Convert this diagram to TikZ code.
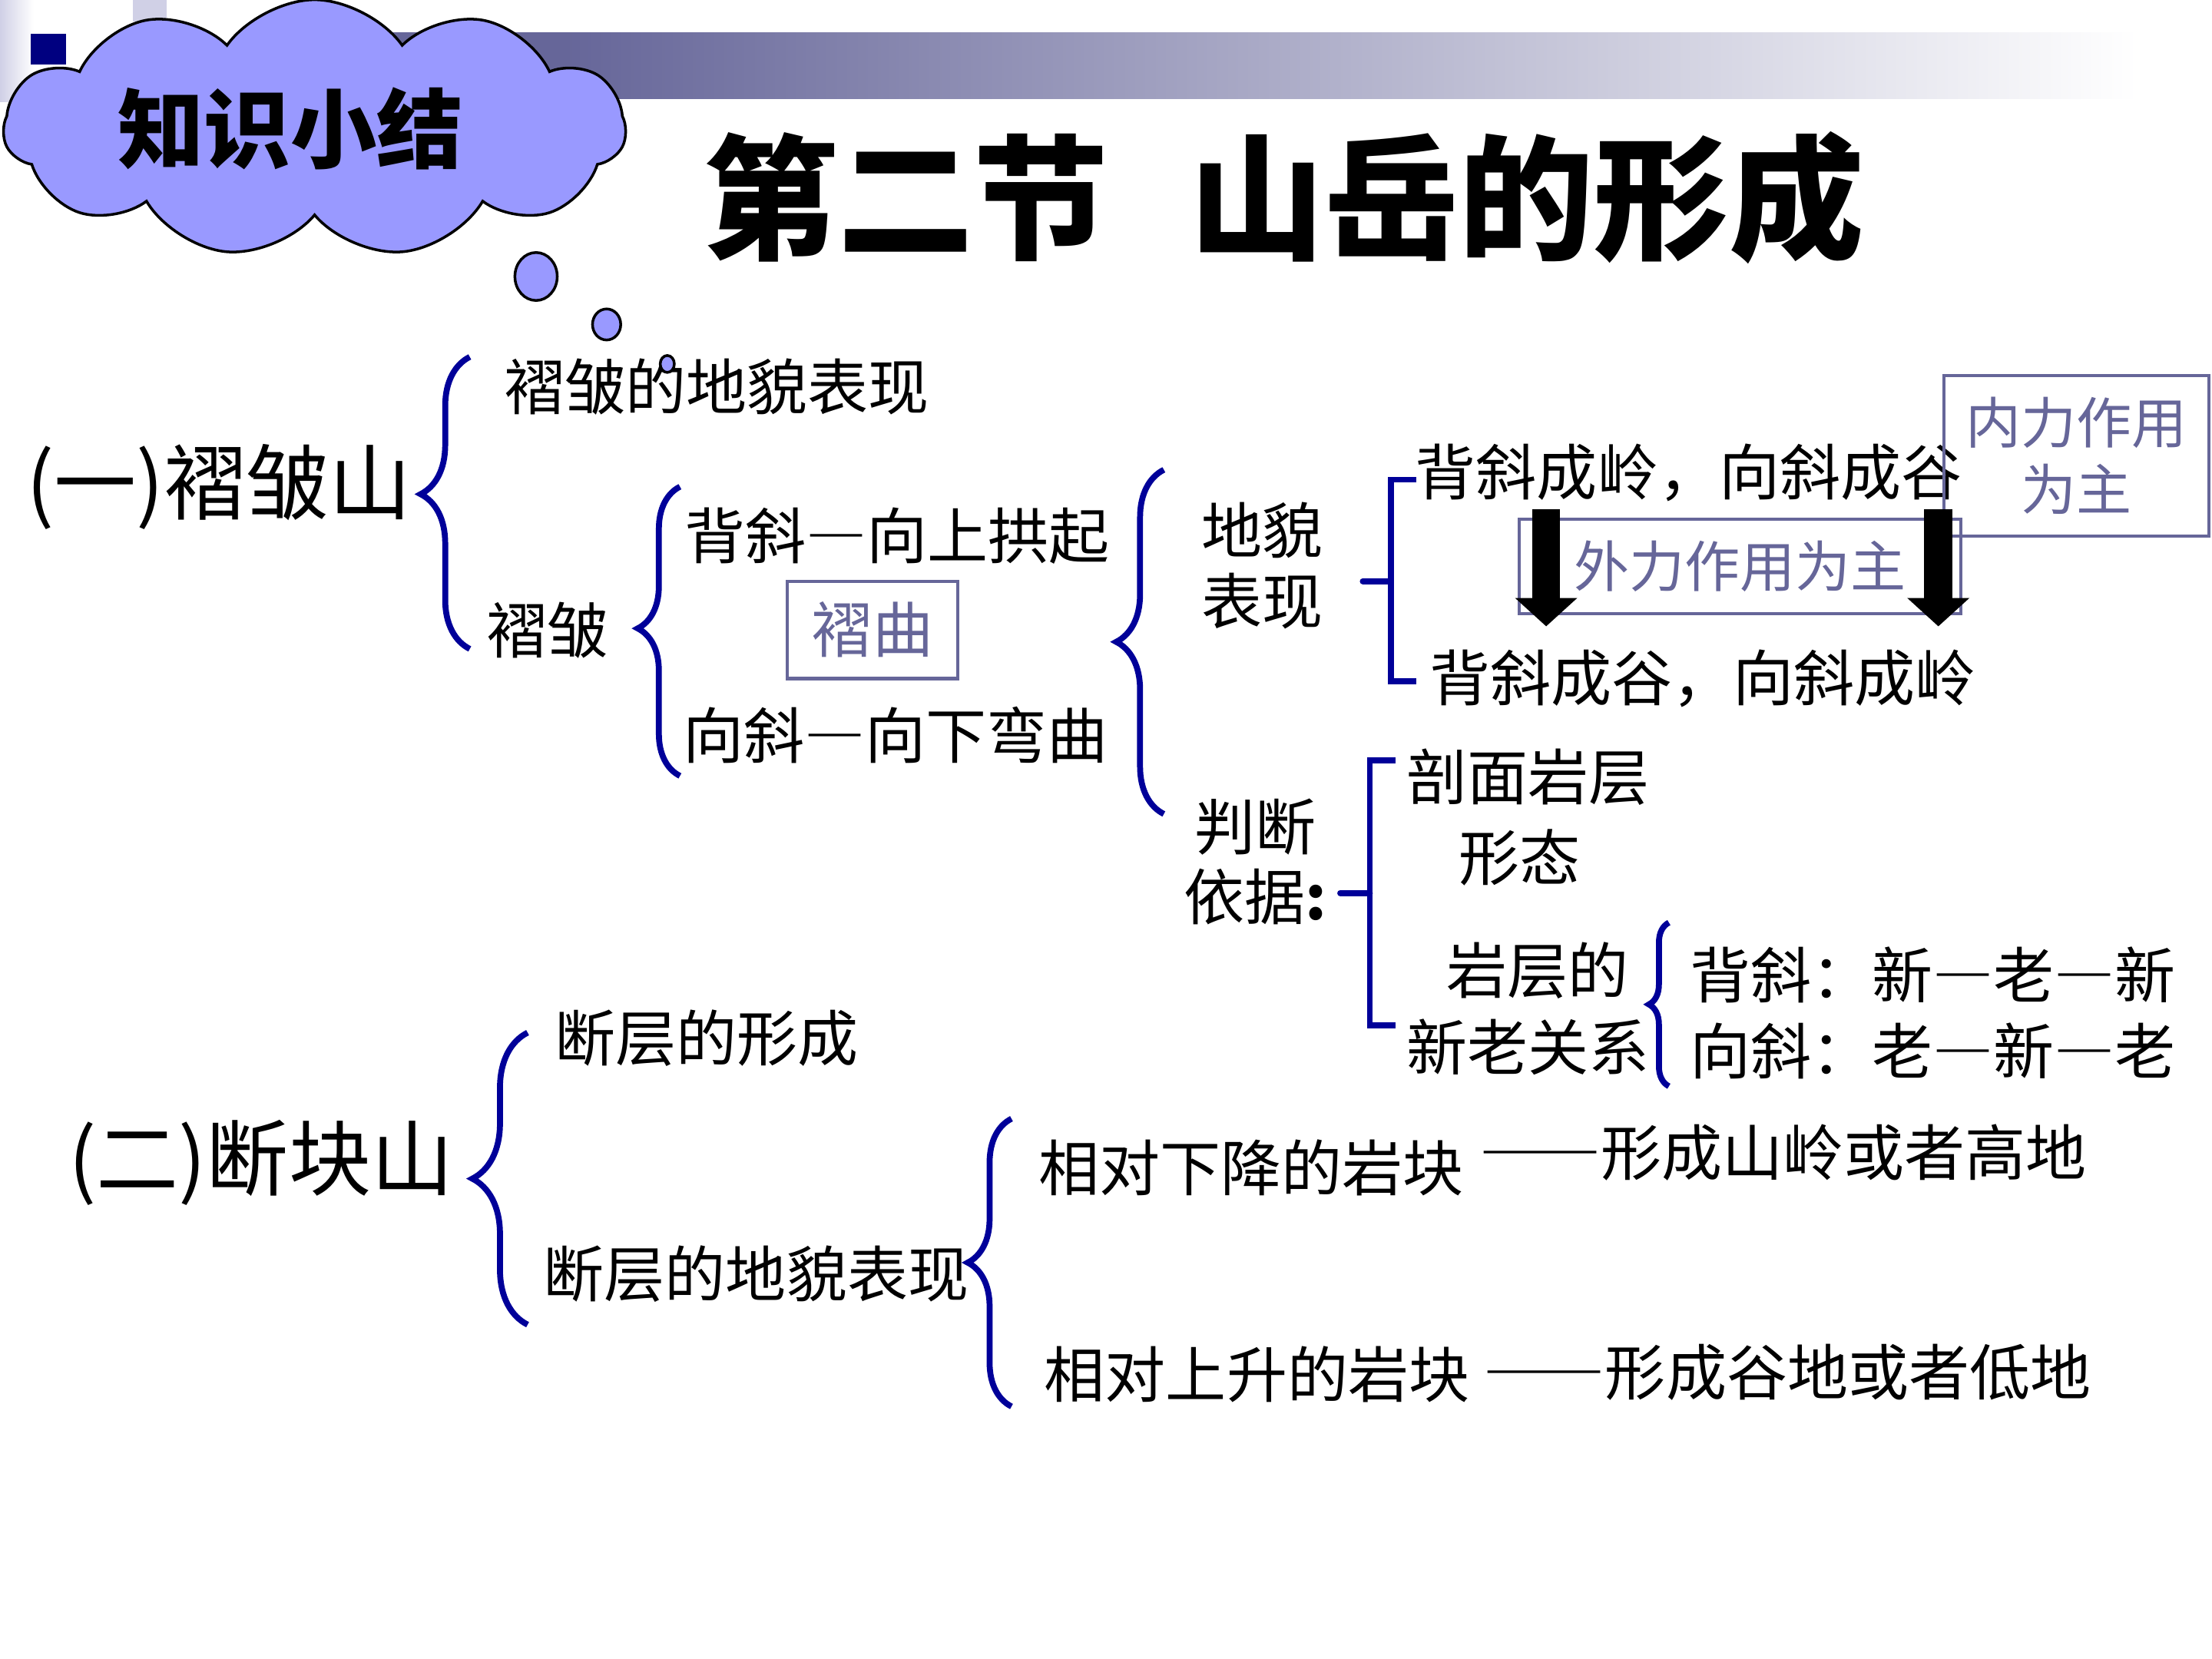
\documentclass[tikz,border=0pt]{standalone}
\usepackage{fontspec}
\setmainfont{Noto Sans CJK SC}
\newfontfamily\fwfont{Noto Sans CJK SC}[RawFeature=+fwid]
\newcommand{\fwdash}{{\fwfont —}}
\usetikzlibrary{shapes.symbols, decorations.pathreplacing, arrows.meta}
\definecolor{navy}{RGB}{0,0,153}
\definecolor{deepnavy}{RGB}{0,0,128}
\definecolor{slate}{RGB}{102,102,153}
\definecolor{puff}{RGB}{153,153,255}
\definecolor{lav}{RGB}{208,208,230}
\tikzset{
	txt/.style = {inner sep = 0, font = \fontsize{22.5}{26}\selectfont},
	big/.style = {inner sep = 0, font = \fontsize{30.5}{34}\selectfont},
	note/.style = {draw = slate, line width = 1.2pt, text = slate, inner sep = 0, align = center, font = \fontsize{20.5}{25}\selectfont},
	brc/.style 2 args = {draw = navy, line width = 2.2pt, decorate, decoration = {brace, amplitude = #1, aspect = #2}},
	brk/.style = {draw = navy, line width = 2.2pt},
	fall/.style = {line width = 0.367cm, -{Triangle[length = 0.37cm, width = 0.79cm]}},
	bubble/.style = {draw = black, line width = 1pt, fill = puff}
}

\begin{document}
\begin{tikzpicture}[x = 0.018367cm, y = -0.018367cm]
	\fill[white] (0,0) rectangle (1568,1176);
	\useasboundingbox (0,0) rectangle (1568,1176);
	\shade[left color = lav, right color = white] (0,0) rectangle (24,72);
	\fill[lav] (94,0) rectangle (118,15);
	\fill[deepnavy] (22,24) rectangle (47,46);
	\fill[slate] (250,23) rectangle (400,70);
	\shade[left color = slate, right color = white] (400,23) rectangle (1515,70);

	\node[cloud, cloud puffs = 11, cloud puff arc = 110, aspect = 2.4, cloud ignores aspect, minimum width = 8.1cm, minimum height = 3.35cm, bubble] (cloud) at (223,91) {};
	\node[inner sep = 0, font = \fontsize{32}{36}\selectfont\bfseries] (sum) at (206,91) {知识小结};
	\node[inner sep = 0, font = \fontsize{50}{52}\selectfont\bfseries] (title) at (910,140) {第二节\hspace{0.6em}山岳的形成};

	\node[big] (fold) at (155,345) {(一)褶皱山};
	\node[txt] (foldland) at (508,274) {褶皱的地貌表现};
	\node[txt] (folds) at (388,447) {褶皱};
	\node[txt] (anti) at (636,380) {背斜\fwdash 向上拱起};
	\node[note, minimum width = 2.22cm, minimum height = 1.27cm, font = \fontsize{22.5}{26}\selectfont] (bend) at (618.5,446.5) {褶曲};
	\node[txt] (syn) at (635,521) {向斜\fwdash 向下弯曲};
	\node[txt, align = center] (land) at (895,401) {地貌\\表现};
	\node[txt] (ridge) at (1197,335) {背斜成岭，向斜成谷};
	\node[note, minimum width = 5.75cm, minimum height = 1.23cm] (ext) at (1233.5,401.5) {外力作用为主};
	\node[txt] (valley) at (1207,481) {背斜成谷，向斜成岭};
	\node[note, minimum width = 3.45cm, minimum height = 2.09cm] (int) at (1472,323) {内力作用\\为主};
	\node[txt, align = center] (basis) at (890,611) {判断\\依据\textbf{:}};
	\node[txt] (section) at (1083,551) {剖面岩层};
	\node[txt] (shape) at (1077,608) {形态};
	\node[txt] (layer) at (1090,688) {岩层的};
	\node[txt] (age) at (1083,742) {新老关系};
	\node[txt] (antiage) at (1370,691) {背斜：新\fwdash 老\fwdash 新};
	\node[txt] (synage) at (1370,745) {向斜：老\fwdash 新\fwdash 老};

	\node[big] (block) at (185,824) {(二)断块山};
	\node[txt] (fault) at (501,736) {断层的形成};
	\node[txt] (faultland) at (536,903) {断层的地貌表现};
	\node[txt] (down) at (887,828) {相对下降的岩块};
	\node[txt] (high) at (1264,817) {\fwdash\fwdash 形成山岭或者高地};
	\node[txt] (up) at (891,974) {相对上升的岩块};
	\node[txt] (low) at (1267,973) {\fwdash\fwdash 形成谷地或者低地};

	\coordinate (a1) at (1096,361);
	\coordinate (a2) at (1096,444);
	\coordinate (b1) at (1374,361);
	\coordinate (b2) at (1374,444);
	\draw[fall] (a1) -- (a2);
	\draw[fall] (b1) -- (b2);

	\coordinate (fold-t) at (333,253);
	\coordinate (fold-b) at (333,460);
	\coordinate (folds-t) at (482,345);
	\coordinate (folds-b) at (482,550);
	\coordinate (kind-t) at (825,333);
	\coordinate (kind-b) at (825,577);
	\coordinate (age-t) at (1183,654);
	\coordinate (age-b) at (1183,770);
	\coordinate (block-t) at (374,732);
	\coordinate (block-b) at (374,939);
	\coordinate (faultland-t) at (717,793);
	\coordinate (faultland-b) at (717,997);
	\draw[brc = {0.64cm}{0.53}] (fold-b) -- (fold-t);
	\draw[brc = {0.55cm}{0.51}] (folds-b) -- (folds-t);
	\draw[brc = {0.62cm}{0.5}] (kind-b) -- (kind-t);
	\draw[brc = {0.26cm}{0.5}] (age-b) -- (age-t);
	\draw[brc = {0.72cm}{0.5}] (block-b) -- (block-t);
	\draw[brc = {0.57cm}{0.5}] (faultland-b) -- (faultland-t);

	\coordinate (land-t) at (1004,340);
	\coordinate (land-m) at (966,412);
	\coordinate (basis-t) at (989,539);
	\coordinate (basis-m) at (950,633);
	\draw[brk] (land-t) -- ++(-18,0) -- ++(0,143) -- ++(18,0);
	\draw[brk, line cap = round] (land-m) -- ++(20,0);
	\draw[brk] (basis-t) -- ++(-18,0) -- ++(0,188) -- ++(18,0);
	\draw[brk, line cap = round] (basis-m) -- ++(21,0);

	\filldraw[bubble] (380,196) ellipse [x radius = 15, y radius = 17];
	\filldraw[bubble] (430,230) ellipse [x radius = 10, y radius = 11];
	\filldraw[bubble] (473,258) ellipse [x radius = 5, y radius = 6];
\end{tikzpicture}
\end{document}
